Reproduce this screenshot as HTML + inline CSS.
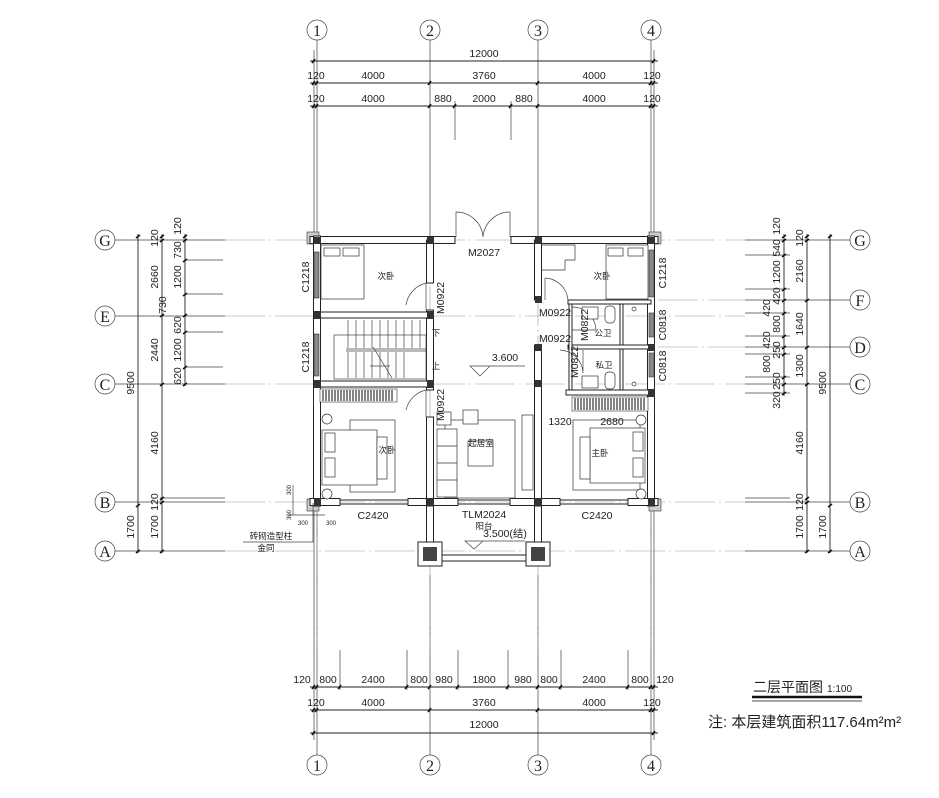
<!DOCTYPE html>
<html><head><meta charset="utf-8"><style>
html,body{margin:0;padding:0;background:#fff;}
svg{display:block}
text{font-family:"Liberation Sans","Noto Sans CJK SC",sans-serif;fill:#222}
text.s{font-family:"Liberation Serif","Noto Serif CJK SC",serif}
.d{stroke:#222;stroke-width:0.9;fill:none}
.a{stroke:#444;stroke-width:0.7;fill:none}
.ax{stroke:#999;stroke-width:0.6;fill:none;stroke-dasharray:40 4 2 4}
.w{stroke:#222;stroke-width:1;fill:#fff}
.c{fill:#333}
.t{stroke:#111;stroke-width:1.6}
.f{stroke:#333;stroke-width:0.7;fill:#fff}
</style></head><body>
<svg width="939" height="798" viewBox="0 0 939 798" xmlns="http://www.w3.org/2000/svg">
<g class="a">
<circle cx="317" cy="30" r="10"/><circle cx="430" cy="30" r="10"/><circle cx="538" cy="30" r="10"/><circle cx="651" cy="30" r="10"/>
<circle cx="317" cy="765" r="10"/><circle cx="430" cy="765" r="10"/><circle cx="538" cy="765" r="10"/><circle cx="651" cy="765" r="10"/>
<circle cx="105" cy="240" r="10"/><circle cx="105" cy="316" r="10"/><circle cx="105" cy="384" r="10"/><circle cx="105" cy="502" r="10"/><circle cx="105" cy="551" r="10"/>
<circle cx="860" cy="240" r="10"/><circle cx="860" cy="300" r="10"/><circle cx="860" cy="347" r="10"/><circle cx="860" cy="384" r="10"/><circle cx="860" cy="502" r="10"/><circle cx="860" cy="551" r="10"/>
</g>
<g font-size="16" text-anchor="middle">
<text class="s" x="317" y="36">1</text><text class="s" x="430" y="36">2</text><text class="s" x="538" y="36">3</text><text class="s" x="651" y="36">4</text>
<text class="s" x="317" y="771">1</text><text class="s" x="430" y="771">2</text><text class="s" x="538" y="771">3</text><text class="s" x="651" y="771">4</text>
<text class="s" x="105" y="246">G</text><text class="s" x="105" y="322">E</text><text class="s" x="105" y="390">C</text><text class="s" x="105" y="508">B</text><text class="s" x="105" y="557">A</text>
<text class="s" x="860" y="246">G</text><text class="s" x="860" y="306">F</text><text class="s" x="860" y="353">D</text><text class="s" x="860" y="390">C</text><text class="s" x="860" y="508">B</text><text class="s" x="860" y="557">A</text>
</g>
<g class="a">
<path d="M317 40V236M430 40V236M538 40V236M651 40V236M314 50V236M654 50V236M455 101V140M511 101V140"/>
<path d="M317 506V755M430 575V755M538 575V755M651 506V755M314 506V740M654 506V740"/>
<path d="M340 650V690M407 650V690M458 650V690M508 650V690M561 650V690M628 650V690"/>
<path d="M115 240H225M115 316H225M115 384H225M115 502H225M115 551H225"/>
<path d="M185 260H223M185 294H223M185 332H223M185 367H223M160 498H225"/>
<path d="M745 240H850M745 300H850M745 347H850M745 384H850M745 502H850M745 551H850"/>
<path d="M745 255H790M745 289H790M745 313H790M745 336H790M745 354H790M745 377H790M745 393H790M745 498H790"/>
</g>
<g class="ax">
<path d="M225 240H745M225 316H745M225 384H745M225 502H745M225 551H745M658 300H745M658 347H745"/>
<path d="M317 236V650M430 236V650M538 236V650M651 236V650"/>
</g>
<g class="d">
<path d="M310 61H658M310 83H658M310 106H658"/>
<path d="M310 687H658M310 710H658M310 733H658"/>
<path d="M138 234V553M162 234V553M185 234V386"/>
<path d="M784 234V396M807 234V553M830 234V553"/>
</g>
<g class="t">
<path d="M312 63l3-4M652 63l3-4"/>
<path d="M312 85l3-4M315 85l3-4M428 85l3-4M536 85l3-4M649 85l3-4M652 85l3-4"/>
<path d="M312 108l3-4M315 108l3-4M428 108l3-4M453 108l3-4M509 108l3-4M536 108l3-4M649 108l3-4M652 108l3-4"/>
<path d="M312 689l3-4M315 689l3-4M338 689l3-4M405 689l3-4M428 689l3-4M456 689l3-4M506 689l3-4M536 689l3-4M559 689l3-4M626 689l3-4M649 689l3-4M652 689l3-4"/>
<path d="M312 712l3-4M315 712l3-4M428 712l3-4M536 712l3-4M649 712l3-4M652 712l3-4"/>
<path d="M312 735l3-4M652 735l3-4"/>
<path d="M136 238l4-3M136 507l4-3M136 553l4-3"/>
<path d="M160 238l4-3M160 242l4-3M160 317l4-3M160 386l4-3M160 500l4-3M160 504l4-3M160 553l4-3"/>
<path d="M183 238l4-3M183 242l4-3M183 262l4-3M183 296l4-3M183 317l4-3M183 334l4-3M183 369l4-3M183 386l4-3"/>
<path d="M782 238l4-3M782 242l4-3M782 257l4-3M782 291l4-3M782 302l4-3M782 315l4-3M782 338l4-3M782 349l4-3M782 356l4-3M782 379l4-3M782 386l4-3M782 395l4-3"/>
<path d="M805 238l4-3M805 242l4-3M805 302l4-3M805 349l4-3M805 386l4-3M805 500l4-3M805 504l4-3M805 553l4-3"/>
<path d="M828 238l4-3M828 507l4-3M828 553l4-3"/>
</g>
<g font-size="10.5" text-anchor="middle">
<text x="484" y="57">12000</text>
<text x="316" y="79">120</text><text x="373" y="79">4000</text><text x="484" y="79">3760</text><text x="594" y="79">4000</text><text x="652" y="79">120</text>
<text x="316" y="102">120</text><text x="373" y="102">4000</text><text x="443" y="102">880</text><text x="484" y="102">2000</text><text x="524" y="102">880</text><text x="594" y="102">4000</text><text x="652" y="102">120</text>
<text x="302" y="683">120</text><text x="328" y="683">800</text><text x="373" y="683">2400</text><text x="419" y="683">800</text><text x="444" y="683">980</text><text x="484" y="683">1800</text><text x="523" y="683">980</text><text x="549" y="683">800</text><text x="594" y="683">2400</text><text x="640" y="683">800</text><text x="665" y="683">120</text>
<text x="316" y="706">120</text><text x="373" y="706">4000</text><text x="484" y="706">3760</text><text x="594" y="706">4000</text><text x="652" y="706">120</text>
<text x="484" y="728">12000</text>
</g>
<g font-size="10.5" text-anchor="middle">
<text transform="translate(134,383) rotate(-90)">9500</text>
<text transform="translate(134,527) rotate(-90)">1700</text>
<text transform="translate(158,238) rotate(-90)">120</text>
<text transform="translate(158,277) rotate(-90)">2660</text>
<text transform="translate(166,305) rotate(-90)">730</text>
<text transform="translate(158,350) rotate(-90)">2440</text>
<text transform="translate(158,443) rotate(-90)">4160</text>
<text transform="translate(158,502) rotate(-90)">120</text>
<text transform="translate(158,527) rotate(-90)">1700</text>
<text transform="translate(181,226) rotate(-90)">120</text>
<text transform="translate(181,250) rotate(-90)">730</text>
<text transform="translate(181,277) rotate(-90)">1200</text>
<text transform="translate(181,325) rotate(-90)">620</text>
<text transform="translate(181,350) rotate(-90)">1200</text>
<text transform="translate(181,376) rotate(-90)">620</text>
<text transform="translate(780,226) rotate(-90)">120</text>
<text transform="translate(780,248) rotate(-90)">540</text>
<text transform="translate(780,272) rotate(-90)">1200</text>
<text transform="translate(780,296) rotate(-90)">420</text>
<text transform="translate(770,308) rotate(-90)">420</text>
<text transform="translate(780,324) rotate(-90)">800</text>
<text transform="translate(770,340) rotate(-90)">420</text>
<text transform="translate(780,350) rotate(-90)">250</text>
<text transform="translate(770,364) rotate(-90)">800</text>
<text transform="translate(780,381) rotate(-90)">250</text>
<text transform="translate(780,400) rotate(-90)">320</text>
<text transform="translate(803,238) rotate(-90)">120</text>
<text transform="translate(803,271) rotate(-90)">2160</text>
<text transform="translate(803,324) rotate(-90)">1640</text>
<text transform="translate(803,366) rotate(-90)">1300</text>
<text transform="translate(803,443) rotate(-90)">4160</text>
<text transform="translate(803,502) rotate(-90)">120</text>
<text transform="translate(803,527) rotate(-90)">1700</text>
<text transform="translate(826,383) rotate(-90)">9500</text>
<text transform="translate(826,527) rotate(-90)">1700</text>
</g>
<g fill="#ccc" stroke="#333" stroke-width="0.6">
<rect x="307" y="232" width="12" height="12"/><rect x="649" y="232" width="12" height="12"/>
<rect x="307" y="499" width="12" height="12"/><rect x="649" y="499" width="12" height="12"/>
</g>
<g class="w">
<rect x="310" y="236.5" width="145" height="7"/><rect x="511" y="236.5" width="147" height="7"/>
<rect x="313.5" y="236" width="7" height="270"/><rect x="647.5" y="236" width="7" height="270"/>
<rect x="310" y="498.5" width="30" height="7"/><rect x="408" y="498.5" width="50" height="7"/><rect x="510" y="498.5" width="50" height="7"/><rect x="628" y="498.5" width="30" height="7"/>
<rect x="426.5" y="240" width="7" height="43"/><rect x="426.5" y="310" width="7" height="80"/><rect x="426.5" y="417" width="7" height="88"/>
<rect x="534.5" y="240" width="7" height="60"/><rect x="534.5" y="345" width="7" height="160"/>
<rect x="317" y="312" width="113" height="6"/><rect x="317" y="381" width="113" height="6"/>
<rect x="568" y="300" width="83" height="4"/><rect x="568" y="345" width="83" height="4"/><rect x="566" y="390" width="85" height="5"/>
<rect x="569" y="304" width="3" height="86"/><rect x="620" y="304" width="3" height="41"/><rect x="620" y="349" width="3" height="41"/>
<rect x="426.5" y="506" width="7" height="42"/><rect x="534.5" y="506" width="7" height="42"/>
<rect x="442" y="555" width="84" height="6"/>
</g>
<g stroke="#333" stroke-width="0.6" fill="#888">
<rect x="314" y="252" width="5" height="46"/><rect x="314" y="334" width="5" height="42"/>
<rect x="649" y="250" width="5" height="47"/><rect x="649" y="313" width="5" height="24"/><rect x="649" y="353" width="5" height="24"/>
</g>
<g class="d"><path d="M340 500H408M340 504H408M458 500H510M458 504H510M560 500H628M560 504H628"/></g>
<g class="c">
<rect x="314" y="237" width="7" height="7"/><rect x="427" y="237" width="7" height="7"/><rect x="535" y="237" width="7" height="7"/><rect x="648" y="237" width="7" height="7"/>
<rect x="314" y="311" width="7" height="8"/><rect x="427" y="311" width="7" height="8"/><rect x="314" y="380" width="7" height="8"/><rect x="427" y="380" width="7" height="8"/>
<rect x="535" y="344" width="7" height="7"/><rect x="648" y="344" width="7" height="7"/><rect x="648" y="389" width="7" height="8"/><rect x="535" y="380" width="7" height="7"/>
<rect x="314" y="498" width="7" height="8"/><rect x="427" y="498" width="7" height="8"/><rect x="535" y="498" width="7" height="8"/><rect x="648" y="498" width="7" height="8"/>
<rect x="535" y="296" width="7" height="7"/>
</g>
<g><rect x="418" y="542" width="24" height="24" class="w"/><rect x="423" y="547" width="14" height="14" fill="#444"/>
<rect x="526" y="542" width="24" height="24" class="w"/><rect x="531" y="547" width="14" height="14" fill="#444"/></g>
<g class="a" stroke="#333">
<path d="M456 237V212A27 27 0 0 1 483 237M510 237V212A27 27 0 0 0 483 237"/>
<path d="M426 283A27 27 0 0 0 406 305M426 283V310"/>
<path d="M426 390A27 27 0 0 0 406 410M426 390V417"/>
<path d="M545 278A24 24 0 0 1 568 300M545 278V300"/>
<path d="M572 307A24 24 0 0 1 596 330M572 330H596"/>
<path d="M560 350A24 24 0 0 1 583 373M583 350V373"/>
</g>
<g class="a" stroke="#333">
<rect x="334" y="335" width="92" height="44"/>
<path d="M348 320V348M356 320V348M364 320V348M372 320V348M380 320V348M388 320V348M396 320V348M404 320V348M412 320V348M420 320V348"/>
<path d="M348 352V378M356 352V378M364 352V378M372 352V378M380 352V378M388 352V378M396 352V378M404 352V378"/>
<path d="M346 349H426M346 351H426M373 347L392 378M370 366H390"/>
</g>
<g><rect x="320" y="389" width="77" height="13" fill="#fff" stroke="#333" stroke-width="0.6"/>
<path d="M323 390v11M326 390v11M329 390v11M332 390v11M335 390v11M338 390v11M341 390v11M344 390v11M347 390v11M350 390v11M353 390v11M356 390v11M359 390v11M362 390v11M365 390v11M368 390v11M371 390v11M374 390v11M377 390v11M380 390v11M383 390v11M386 390v11M389 390v11M392 390v11" stroke="#333" stroke-width="1.2"/>
<rect x="572" y="397" width="76" height="14" fill="#fff" stroke="#333" stroke-width="0.6"/>
<path d="M575 398v12M578 398v12M581 398v12M584 398v12M587 398v12M590 398v12M593 398v12M596 398v12M599 398v12M602 398v12M605 398v12M608 398v12M611 398v12M614 398v12M617 398v12M620 398v12M623 398v12M626 398v12M629 398v12M632 398v12M635 398v12M638 398v12M641 398v12M644 398v12" stroke="#333" stroke-width="1.2"/></g>
<g class="f">
<rect x="321" y="245" width="43" height="54"/><rect x="324" y="248" width="16" height="8"/><rect x="343" y="248" width="16" height="8"/>
<rect x="606" y="245" width="42" height="54"/><rect x="608" y="248" width="15" height="8"/><rect x="628" y="248" width="15" height="8"/>
<path d="M541 245H575V260H565V270H541" fill="none"/>
<rect x="350" y="420" width="45" height="72"/>
<rect x="322" y="430" width="55" height="55"/><rect x="325" y="433" width="10" height="19"/><rect x="325" y="458" width="10" height="19"/><rect x="377" y="437" width="10" height="42"/>
<circle cx="327" cy="419" r="5"/><circle cx="327" cy="494" r="5"/>
<rect x="573" y="420" width="67" height="70"/>
<rect x="590" y="428" width="55" height="55"/><rect x="633" y="432" width="10" height="19"/><rect x="633" y="458" width="10" height="19"/><rect x="580" y="437" width="10" height="42"/>
<circle cx="641" cy="420" r="5"/><circle cx="641" cy="494" r="5"/>
<rect x="445" y="420" width="70" height="78"/>
<rect x="437" y="429" width="20" height="68"/><path d="M437 446H457M437 463H457M437 480H457" fill="none"/>
<rect x="468" y="441" width="25" height="25"/>
<rect x="437" y="412" width="14" height="13"/><rect x="463" y="410" width="15" height="14"/>
<rect x="522" y="415" width="11" height="75"/>
<rect x="582" y="307" width="16" height="12"/><rect x="605" y="306" width="10" height="17" rx="4"/>
<rect x="582" y="376" width="16" height="12"/><rect x="605" y="372" width="10" height="17" rx="4"/>
<circle cx="634" cy="309" r="2"/><circle cx="634" cy="384" r="2"/>
</g>
<g class="a" stroke="#333">
<path d="M470 366L480 376L490 366Z M490 366H525"/>
<path d="M465 541L474 549L483 541Z M483 541H525"/>
</g>
<g class="a" stroke="#333"><path d="M243 542H313V503M293 485V515M288 515H325"/></g>
<g font-size="10.5" text-anchor="middle">
<text x="484" y="256">M2027</text>
<text x="555" y="316">M0922</text>
<text x="555" y="342">M0922</text>
<text x="505" y="361">3.600</text>
<text x="560" y="425">1320</text>
<text x="612" y="425">2680</text>
<text x="373" y="519">C2420</text>
<text x="597" y="519">C2420</text>
<text x="484" y="518">TLM2024</text>
<text x="505" y="537">3.500(结)</text>
<text transform="translate(444,298) rotate(-90)">M0922</text>
<text transform="translate(444,405) rotate(-90)">M0922</text>
<text transform="translate(588,325) rotate(-90)">M0822</text>
<text transform="translate(578,362) rotate(-90)">M0822</text>
<text transform="translate(309,277) rotate(-90)">C1218</text>
<text transform="translate(309,357) rotate(-90)">C1218</text>
<text transform="translate(666,273) rotate(-90)">C1218</text>
<text transform="translate(666,325) rotate(-90)">C0818</text>
<text transform="translate(666,366) rotate(-90)">C0818</text>
</g>
<g font-size="8.5" text-anchor="middle">
<text x="386" y="279">次卧</text><text x="387" y="453">次卧</text><text x="481" y="446">起居室</text><text x="600" y="456">主卧</text>
<text x="602" y="279">次卧</text><text x="603" y="336">公卫</text><text x="604" y="368">私卫</text>
<text x="436" y="336">下</text><text x="436" y="369">上</text><text x="484" y="529">阳台</text>
<text x="271" y="539">砖砌造型柱</text><text x="266" y="551">金同</text>
</g>
<g font-size="6" text-anchor="middle"><text transform="translate(291,490) rotate(-90)">300</text><text transform="translate(291,515) rotate(-90)">300</text><text x="303" y="525">300</text><text x="331" y="525">300</text></g>
<text x="753" y="692" font-size="14">二层平面图</text><text x="827" y="692" font-size="10">1:100</text>
<path d="M752 697H862" stroke="#111" stroke-width="2.5"/><path d="M752 701H862" stroke="#111" stroke-width="0.8"/>
<text x="708" y="727" font-size="15">注: 本层建筑面积117.64m²m²</text>
</svg>
</body></html>
